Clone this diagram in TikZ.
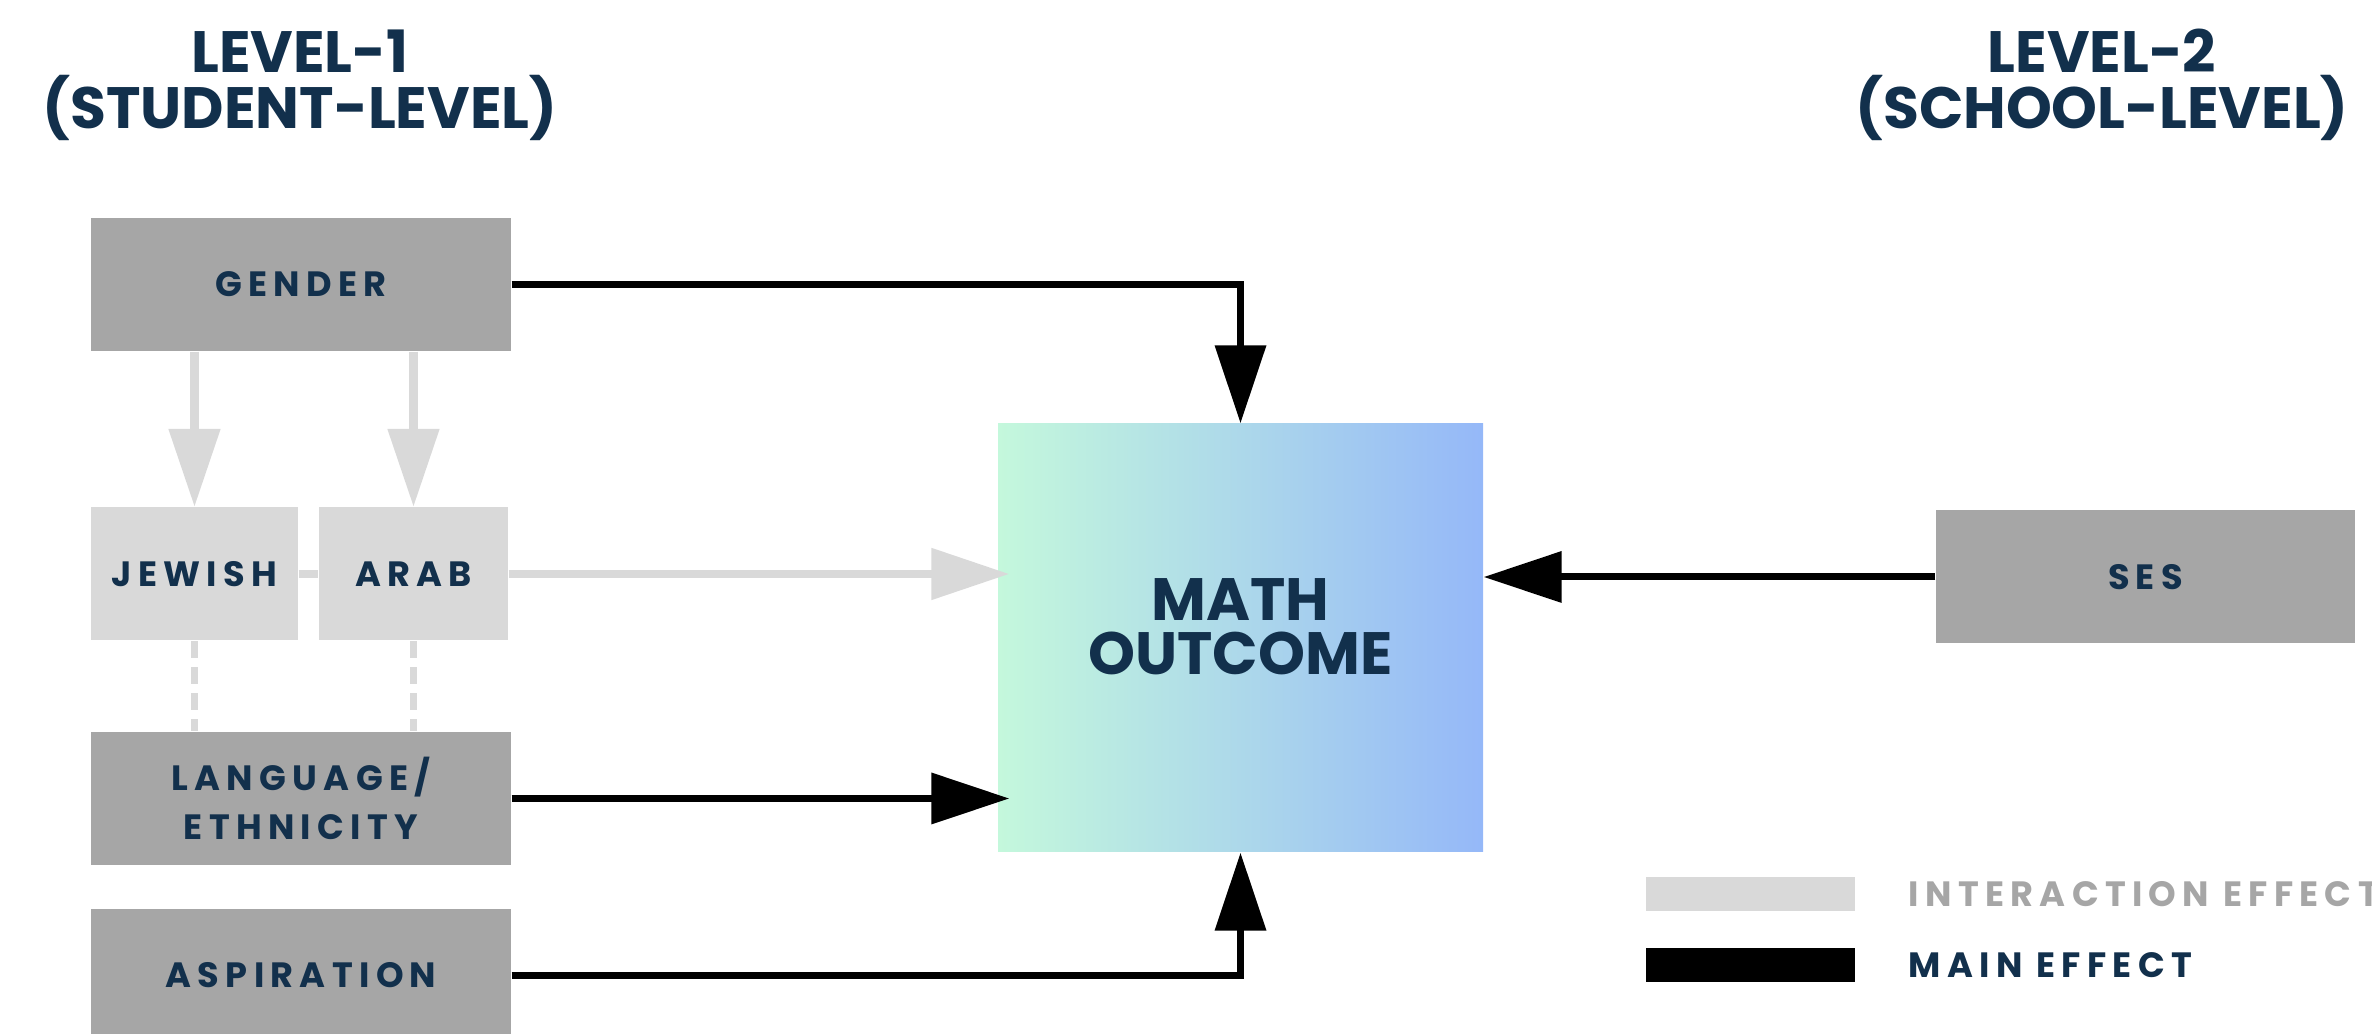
\documentclass[tikz,border=0pt]{standalone}
\usepackage{fontspec}
\setmainfont{Poppins}
\newfontfamily\trackfont[LetterSpace=18]{Poppins}
\newfontfamily\legfont[LetterSpace=18]{Poppins}
\definecolor{navy}{HTML}{12304C}
\definecolor{boxdark}{HTML}{A6A6A6}
\definecolor{boxlight}{HTML}{D9D9D9}
\definecolor{mintg}{HTML}{C4F8DC}
\definecolor{skyb}{HTML}{95B8F8}
\usetikzlibrary{arrows.meta}

\begin{document}
\begin{tikzpicture}[
  vbox/.style={rectangle, minimum width=4.2cm, minimum height=1.33cm, fill=boxdark,
               inner sep=0pt, align=center, text=navy,
               font=\trackfont\bfseries\fontsize{10}{14}\selectfont},
  ibox/.style={vbox, fill=boxlight},
  ttl/.style={align=center, text=navy, font=\bfseries\fontsize{16.6}{16}\selectfont},
  mainarr/.style={-{Triangle[length=0.78cm, width=0.5cm]}, line width=2pt, black},
  intarr/.style={-{Triangle[length=0.78cm, width=0.5cm]}, line width=2.4pt, boxlight},
  intdash/.style={line width=2pt, boxlight, dash pattern=on 0.17cm off 0.09cm},
  legbar/.style={rectangle, minimum width=2.09cm, minimum height=0.34cm, inner sep=0pt},
  legtxt/.style={anchor=west, inner sep=0pt, font=\legfont\bfseries\fontsize{10}{12}\selectfont},
]
\useasboundingbox (0,0) rectangle (23.72,10.34);

% level titles
\node[ttl] (lvone) at (3.0,9.49) {LEVEL-1\\(STUDENT-LEVEL)};
\node[ttl] (lvtwo) at (21.02,9.49) {LEVEL-2\\(SCHOOL-LEVEL)};

% predictors
\node[vbox] (gender) at (3.01,7.495) {GENDER};
\node[ibox, minimum width=2.07cm] (jewish) at (1.945,4.6) {JEWISH};
\node[ibox, minimum width=1.89cm] (arab) at (4.135,4.6) {ARAB};
\node[vbox] (lang) at (3.01,2.355) {LANGUAGE/\\ETHNICITY};
\node[vbox] (asp) at (3.01,0.585) {ASPIRATION};
\node[vbox, minimum width=4.19cm] (ses) at (21.455,4.57) {SES};

% outcome
\node[rectangle, minimum width=4.85cm, minimum height=4.28cm, left color=mintg,
      right color=skyb] (math) at (12.405,3.96) {};
\node[align=center, text=navy, font=\bfseries\fontsize{17}{15.5}\selectfont]
      (mathlbl) at (12.405,4.07) {MATH\\OUTCOME};

% interaction effects
\draw[intarr] (gender.south -| jewish) -- (jewish);
\draw[intarr] (gender.south -| arab) -- (arab);
\draw[line width=2.4pt, boxlight] (jewish) -- (arab);
\draw[intarr, shorten >=-0.12cm] (arab) -- (arab -| math.west);
\draw[intdash] (jewish) -- (jewish |- lang.north);
\draw[intdash] (arab) -- (arab |- lang.north);

% main effects
\draw[mainarr] (gender) -| (math);
\draw[mainarr, shorten >=-0.12cm] (lang) -- (lang -| math.west);
\draw[mainarr] (asp) -| (math);
\draw[mainarr] (ses) -- (ses -| math.east);

% legend
\node[legbar, fill=boxlight] (legint) at (17.505,1.40) {};
\node[legbar, fill=black] (legmain) at (17.505,0.685) {};
\node[legtxt, text=boxdark] (legintt) at (19.08,1.40) {INTERACTION EFFECT};
\node[legtxt, text=navy] (legmaint) at (19.08,0.685) {MAIN EFFECT};
\end{tikzpicture}
\end{document}
